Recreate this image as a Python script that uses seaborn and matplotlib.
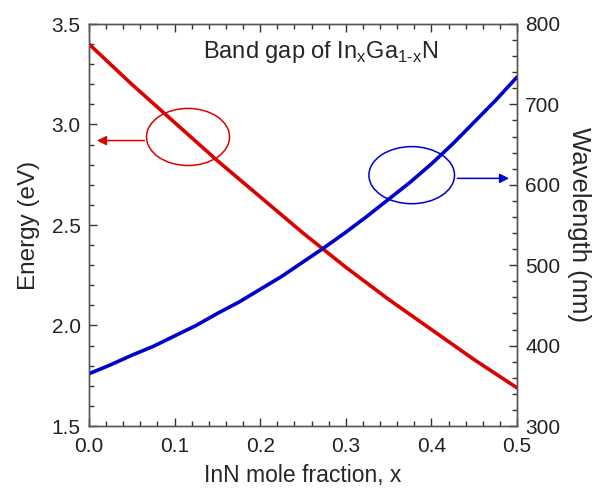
import numpy as np
import pandas as pd
import matplotlib
matplotlib.use("Agg")
import matplotlib.pyplot as plt
from matplotlib.patches import Ellipse
from matplotlib.ticker import MultipleLocator, FormatStrFormatter
import seaborn as sns

# InN mole fraction and values
mole_fraction = [0.0, 0.025, 0.05, 0.075, 0.10, 0.125, 0.15, 0.175, 0.20, 0.225, 0.25,
                 0.275, 0.30, 0.325, 0.35, 0.375, 0.40, 0.425, 0.45, 0.475, 0.50]
energy_ev = [3.40, 3.30, 3.20, 3.105, 3.01, 2.915, 2.82, 2.73, 2.64, 2.55, 2.46,
             2.375, 2.29, 2.21, 2.13, 2.055, 1.98, 1.905, 1.83, 1.76, 1.69]
wavelength_nm = [365, 376, 388, 399, 412, 425, 440, 454, 470, 486, 504,
                 522, 541, 561, 582, 603, 626, 651, 678, 705, 734]

df = pd.DataFrame({"x": mole_fraction, "E": energy_ev, "wl": wavelength_nm})

sns.set_style("ticks")
plt.rcParams['font.family'] = ['Liberation Sans', 'DejaVu Sans']
plt.rcParams['mathtext.fontset'] = 'custom'
plt.rcParams['mathtext.rm'] = 'Liberation Sans'
plt.rcParams.update({
    'xtick.direction': 'in', 'ytick.direction': 'in',
    'xtick.top': True, 'xtick.bottom': True,
    'xtick.major.size': 6, 'xtick.minor.size': 3.5,
    'ytick.major.size': 6, 'ytick.minor.size': 3.5,
    'xtick.major.width': 1.0, 'xtick.minor.width': 1.0,
    'ytick.major.width': 1.0, 'ytick.minor.width': 1.0,
    'xtick.color': '#333333', 'ytick.color': '#333333',
    'xtick.labelcolor': '#222222', 'ytick.labelcolor': '#222222',
    'xtick.labelsize': 15, 'ytick.labelsize': 15,
})

fig = plt.figure(figsize=(6.01, 4.94), dpi=100)
rect = [89/601, 1 - 426/494, 428/601, 402/494]
ax = fig.add_axes(rect)
# separate (not shared) axes for the wavelength scale on the right
ax2 = fig.add_axes(rect)
ax2.patch.set_visible(False)
ax2.xaxis.set_visible(False)
ax2.yaxis.tick_right()
ax2.yaxis.set_label_position('right')

sns.lineplot(data=df, x="x", y="E", ax=ax, color="#dd0000", linewidth=2.6)
sns.lineplot(data=df, x="x", y="wl", ax=ax2, color="#0000cc", linewidth=2.6)

ax.set_xlim(0, 0.5)
ax2.set_xlim(0, 0.5)
ax.set_ylim(1.5, 3.5)
ax2.set_ylim(300, 800)

ax.xaxis.set_major_locator(MultipleLocator(0.1))
ax.xaxis.set_minor_locator(MultipleLocator(0.02))
ax.yaxis.set_major_locator(MultipleLocator(0.5))
ax.yaxis.set_minor_locator(MultipleLocator(0.1))
ax2.yaxis.set_major_locator(MultipleLocator(100))
ax2.yaxis.set_minor_locator(MultipleLocator(20))
ax.xaxis.set_major_formatter(FormatStrFormatter('%.1f'))
ax.yaxis.set_major_formatter(FormatStrFormatter('%.1f'))

ax.tick_params(axis='x', which='both', direction='in', bottom=True, top=True, pad=8)
ax.tick_params(axis='y', which='both', direction='in', left=True, right=False, pad=6)
ax2.tick_params(axis='y', which='both', direction='in', left=False, right=True, pad=6)

for a in (ax, ax2):
    for s in a.spines.values():
        s.set_color('#555555')
        s.set_linewidth(1.0)

ax.set_xlabel("InN mole fraction, x", fontsize=16.5, labelpad=6)
ax.set_ylabel("Energy (eV)", fontsize=17.5, labelpad=8)
ax2.set_ylabel("Wavelength (nm)", fontsize=18.5, labelpad=22, rotation=270)

ax.text(0.542, 0.93, r"Band gap of In$_{\mathrm{x}}$Ga$_{\mathrm{1\text{-}x}}$N",
        transform=ax.transAxes, ha='center', va='center', fontsize=17)

# ellipses with arrows pointing to the axis
ax.add_patch(Ellipse((0.1157, 2.938), 0.097, 0.284, fill=False, edgecolor="#dd0000", linewidth=1.1))
ax.annotate("", xy=(0.006, 2.92), xytext=(0.068, 2.92),
            arrowprops=dict(arrowstyle="-|>", color="#dd0000", lw=1.1, mutation_scale=14))
ax2.add_patch(Ellipse((0.377, 612), 0.10, 71, fill=False, edgecolor="#0000cc", linewidth=1.1))
ax2.annotate("", xy=(0.494, 608), xytext=(0.427, 608),
             arrowprops=dict(arrowstyle="-|>", color="#0000cc", lw=1.1, mutation_scale=14))

fig.savefig("out.png", dpi=100)
